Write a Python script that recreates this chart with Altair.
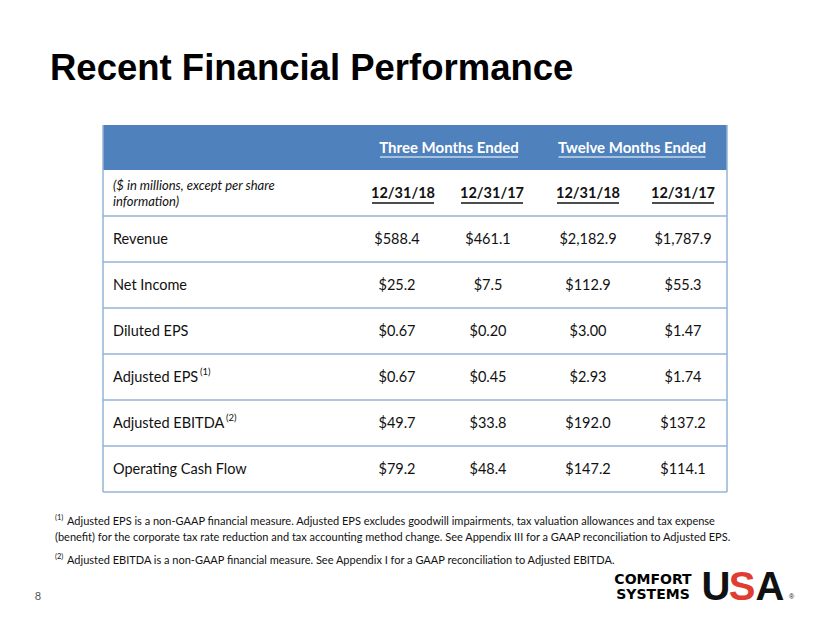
import altair as alt
import pandas as pd

# ---------------- data ----------------
title_text = "Recent Financial Performance"
row_labels = ["Revenue", "Net Income", "Diluted EPS", "Adjusted EPS",
              "Adjusted EBITDA", "Operating Cash Flow"]
row_notes = ["", "", "", "(1)", "(2)", ""]
period_groups = ["Three Months Ended", "Twelve Months Ended"]
period_dates = ["12/31/18", "12/31/17", "12/31/18", "12/31/17"]
q4_2018 = ["$588.4", "$25.2", "$0.67", "$0.67", "$49.7", "$79.2"]
q4_2017 = ["$461.1", "$7.5", "$0.20", "$0.45", "$33.8", "$48.4"]
fy_2018 = ["$2,182.9", "$112.9", "$3.00", "$2.93", "$192.0", "$147.2"]
fy_2017 = ["$1,787.9", "$55.3", "$1.47", "$1.74", "$137.2", "$114.1"]
units_note = ["($ in millions, except per share", "information)"]
footnote_marks = ["(1)", "(2)"]
footnote_1 = [
    "Adjusted EPS is a non-GAAP financial measure.  Adjusted EPS excludes goodwill impairments, tax valuation allowances and tax expense",
    "(benefit) for the corporate tax rate reduction and tax accounting method change.  See Appendix III for a GAAP reconciliation to Adjusted EPS.",
]
footnote_2 = "Adjusted EBITDA  is a non-GAAP financial measure.  See Appendix I for a GAAP reconciliation to Adjusted EBITDA."
page_number = "8"
logo_words = ["COMFORT", "SYSTEMS"]
logo_letters = ["U", "S", "A"]

# ---------------- layout (page pixel units) ----------------
W, H = 814, 607
TABLE_L, TABLE_R = 103, 727
TABLE_TOP = 125
HEAD_BOTTOM = 170
SUB_BOTTOM = 216
ROW_H = 46
LABEL_X = 113
COL_X = [397, 488, 588, 683]
DATE_X = [403, 492, 588, 683]
GROUP_X = [449, 632]
GROUP_W = [138, 147]
DATE_W = 62
NOTE_X = [0, 0, 0, 200, 226, 0]
BLUE = "#4F81BD"
GRID = "#95B3D7"
FONT = "Lato"

columns = [q4_2018, q4_2017, fy_2018, fy_2017]
n_rows = len(row_labels)
row_top = [SUB_BOTTOM + ROW_H * i for i in range(n_rows)]
row_mid = [t + ROW_H / 2 for t in row_top]
TABLE_BOTTOM = SUB_BOTTOM + ROW_H * n_rows

X = lambda f="x": alt.X(f"{f}:Q", scale=alt.Scale(domain=[8, 8 + W], nice=False, zero=False), axis=None)
Y = lambda f="y": alt.Y(f"{f}:Q", scale=alt.Scale(domain=[8, 8 + H], nice=False, zero=False, reverse=True), axis=None)


def text_layer(df, **style):
    return alt.Chart(df).mark_text(**style).encode(x=X(), y=Y(), text="text:N")


layers = []

# header band
hdr = pd.DataFrame([{"x": TABLE_L, "x2": TABLE_R, "y": TABLE_TOP, "y2": HEAD_BOTTOM}])
layers.append(alt.Chart(hdr).mark_rect(color=BLUE).encode(
    x=X(), x2="x2:Q", y=Y(), y2="y2:Q"))

# grid lines
hlines = pd.DataFrame({"x": TABLE_L, "x2": TABLE_R,
                       "y": [SUB_BOTTOM] + [t + ROW_H for t in row_top]})
layers.append(alt.Chart(hlines).mark_rule(color=GRID, strokeWidth=1.5).encode(
    x=X(), x2="x2:Q", y=Y()))
vlines = pd.DataFrame({"x": [TABLE_L, TABLE_R], "y": TABLE_TOP, "y2": TABLE_BOTTOM})
layers.append(alt.Chart(vlines).mark_rule(color=GRID, strokeWidth=1.5).encode(
    x=X(), y=Y(), y2="y2:Q"))

# group headers
grp = pd.DataFrame({"x": GROUP_X, "y": 148, "text": period_groups})
layers.append(text_layer(grp, font=FONT, fontSize=15, fontWeight="bold",
                         color="white", align="center", baseline="middle"))
grp_ul = pd.DataFrame({"x": [gx - w / 2 for gx, w in zip(GROUP_X, GROUP_W)],
                       "x2": [gx + w / 2 for gx, w in zip(GROUP_X, GROUP_W)], "y": 157})
layers.append(alt.Chart(grp_ul).mark_rule(color="white", strokeWidth=1.2).encode(
    x=X(), x2="x2:Q", y=Y()))

# date headers
dts = pd.DataFrame({"x": DATE_X, "y": 194, "text": period_dates})
layers.append(text_layer(dts, font=FONT, fontSize=14.5, fontWeight="bold",
                         color="#111111", align="center", baseline="middle"))
dt_ul = pd.DataFrame({"x": [c - DATE_W / 2 for c in DATE_X],
                      "x2": [c + DATE_W / 2 for c in DATE_X], "y": 203})
layers.append(alt.Chart(dt_ul).mark_rule(color="#111111", strokeWidth=1.3).encode(
    x=X(), x2="x2:Q", y=Y()))

# units note
un = pd.DataFrame({"x": LABEL_X, "y": [186, 202], "text": units_note})
layers.append(text_layer(un, font=FONT, fontSize=13, fontStyle="italic",
                         color="#111111", align="left", baseline="middle"))

# row labels
rl = pd.DataFrame({"x": LABEL_X, "y": [m + 1 for m in row_mid], "text": row_labels})
layers.append(text_layer(rl, font=FONT, fontSize=14.5, color="#111111",
                         align="left", baseline="middle"))
rn = pd.DataFrame({"x": [NOTE_X[i] for i in range(n_rows) if row_notes[i]],
                   "y": [row_mid[i] - 5 for i in range(n_rows) if row_notes[i]],
                   "text": [n for n in row_notes if n]})
layers.append(text_layer(rn, font=FONT, fontSize=9.5, color="#111111",
                         align="left", baseline="middle"))

# values
vals = pd.DataFrame([{"x": COL_X[c], "y": row_mid[r] + 1, "text": columns[c][r]}
                     for c in range(4) for r in range(n_rows)])
layers.append(text_layer(vals, font=FONT, fontSize=14.5, color="#111111",
                         align="center", baseline="middle"))

# title
tt = pd.DataFrame({"x": [50], "y": [80], "text": [title_text]})
layers.append(text_layer(tt, font="Liberation Sans", fontSize=36.5, fontWeight="bold",
                         color="black", align="left", baseline="alphabetic"))

# footnotes
fm = pd.DataFrame({"x": 55, "y": [518, 557], "text": footnote_marks})
layers.append(text_layer(fm, font=FONT, fontSize=7.5, color="#111111",
                         align="left", baseline="middle"))
fn = pd.DataFrame({"x": [67, 55, 67], "y": [522, 538, 561],
                   "text": footnote_1 + [footnote_2]})
layers.append(text_layer(fn, font=FONT, fontSize=11, color="#111111",
                         align="left", baseline="middle"))

# page number
pn = pd.DataFrame({"x": [38], "y": [597], "text": [page_number]})
layers.append(text_layer(pn, font=FONT, fontSize=11, color="#555555",
                         align="center", baseline="middle"))

# logo
lw = pd.DataFrame({"x": 653, "y": [584, 599], "text": logo_words})
layers.append(text_layer(lw, font="DejaVu Sans", fontSize=14, fontWeight="bold",
                         color="black", align="center", baseline="alphabetic"))
ll = pd.DataFrame({"x": [716, 742, 770], "y": 600, "text": logo_letters,
                   "c": ["#111111", "#E03C31", "#111111"]})
layers.append(alt.Chart(ll).mark_text(font="Liberation Sans", fontSize=40, fontWeight="bold",
                                      align="center", baseline="alphabetic").encode(
    x=X(), y=Y(), text="text:N", color=alt.Color("c:N", scale=None)))
rg = pd.DataFrame({"x": [789], "y": [599], "text": ["®"]})
layers.append(text_layer(rg, font="Liberation Sans", fontSize=7, color="#111111",
                         align="left", baseline="alphabetic"))

chart = alt.layer(*layers).properties(
    width=W, height=H, padding=0, autosize=alt.AutoSizeParams(type="none"),
    background="white"
).configure_view(stroke=None)

chart.save("out.html", embed_options={"renderer": "svg", "actions": False})
